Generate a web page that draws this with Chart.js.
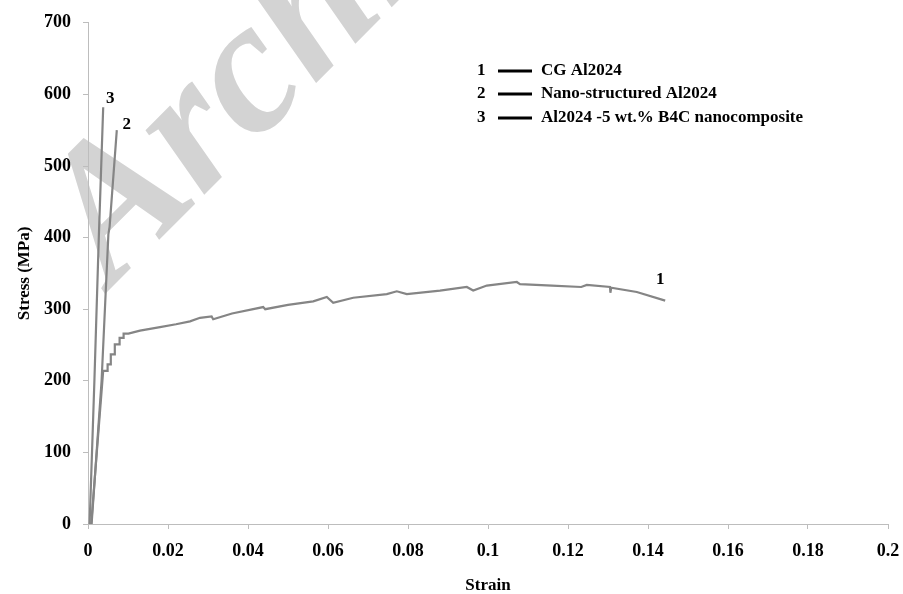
<!DOCTYPE html>
<html>
<head>
    <title>Stress-strain curves</title>
    <style>
        body{ margin:0; background:white; }
    </style>
</head>
<body>
<canvas id="stress" width="903" height="594"></canvas>

<script src="https://cdn.jsdelivr.net/npm/chart.js@4.4.0/dist/chart.umd.min.js"></script>
<script>

    // 1: CG Al2024
    const strain1 = [0.0008, 0.0022, 0.0038, 0.0048, 0.0049, 0.0056, 0.0057, 0.0066, 0.0067, 0.0078, 0.0079, 0.0088, 0.0089, 0.0101,
        0.013, 0.018, 0.022, 0.0255, 0.028, 0.0309, 0.0313, 0.036, 0.0438, 0.0443, 0.05, 0.0563, 0.0597, 0.0613, 0.0663, 0.0747, 0.0772, 0.0797,
        0.088, 0.0947, 0.0963, 0.0997, 0.1072, 0.108, 0.116, 0.1233, 0.1247, 0.1305, 0.1306, 0.1308, 0.1372, 0.1443];
    const stress1 = [0, 100, 214, 214, 223, 223, 237, 237, 251, 251, 260, 260, 266, 266,
        270, 275, 279, 283, 288, 290, 286, 294, 303, 300, 306, 311, 317, 309, 316, 321, 325, 321,
        326, 331, 326, 333, 338, 335, 333, 331, 334, 331, 323, 330, 324, 312];

    // 2: Nano-structured Al2024
    const strain2 = [0.0009, 0.0034, 0.0051, 0.0054, 0.0072];
    const stress2 = [0, 200, 405, 415, 550];

    // 3: Al2024 -5 wt.% B4C nanocomposite
    const strain3 = [0.0004, 0.0016, 0.0027, 0.0038];
    const stress3 = [0, 200, 400, 582];

    const seriesNames = ["CG Al2024", "Nano-structured Al2024", "Al2024 -5 wt.% B4C nanocomposite"];
    const seriesNumbers = ["1", "2", "3"];

    const xTicks = [0, 0.02, 0.04, 0.06, 0.08, 0.1, 0.12, 0.14, 0.16, 0.18, 0.2];
    const yTicks = [0, 100, 200, 300, 400, 500, 600, 700];

    function toPoints(xs, ys) {
        return xs.map((x, i) => ({x: x, y: ys[i]}));
    }

    const serif = '"Liberation Serif", "Times New Roman", serif';
    const lineGrey = "#858585";
    const axisGrey = "#bdbdbd";

    // label offsets (px) from the last point of each curve
    const labelOffsets = [[-5, -21], [10, -6], [7, -9]];

    const extras = {
        id: "extras",
        beforeDraw(chart) {
            const ctx = chart.ctx;
            ctx.save();
            ctx.translate(112, 287);
            ctx.rotate(-45 * Math.PI / 180);
            ctx.fillStyle = "#d3d3d3";
            ctx.font = "italic bold 190px " + serif;
            ctx.textBaseline = "alphabetic";
            ctx.fillText("Archive of SID", 0, 0);
            ctx.restore();
        },
        afterDatasetsDraw(chart) {
            const ctx = chart.ctx;
            const xs = chart.scales.x, ys = chart.scales.y;
            ctx.save();
            ctx.fillStyle = "black";
            ctx.font = "bold 17px " + serif;
            ctx.textAlign = "center";
            ctx.textBaseline = "middle";
            chart.data.datasets.forEach((ds, i) => {
                const last = ds.data[ds.data.length - 1];
                ctx.fillText(seriesNumbers[i],
                    xs.getPixelForValue(last.x) + labelOffsets[i][0],
                    ys.getPixelForValue(last.y) + labelOffsets[i][1]);
            });

            // legend
            const rowsY = [71, 94, 118];
            ctx.textAlign = "left";
            ctx.font = "bold 17px " + serif;
            seriesNames.forEach((name, i) => {
                ctx.fillText(seriesNumbers[i], 477, rowsY[i]);
                ctx.beginPath();
                ctx.moveTo(498, rowsY[i]);
                ctx.lineTo(532, rowsY[i]);
                ctx.lineWidth = 3;
                ctx.strokeStyle = "black";
                ctx.stroke();
                ctx.fillText(name, 541, rowsY[i]);
            });
            ctx.restore();
        }
    };

    const lineStyle = {
        showLine: true,
        borderColor: lineGrey,
        borderWidth: 2.2,
        pointRadius: 0,
        tension: 0,
        fill: false
    };

    new Chart("stress", {
        type: "scatter",
        data: {
            datasets: [
                Object.assign({label: seriesNames[0], data: toPoints(strain1, stress1)}, lineStyle),
                Object.assign({label: seriesNames[1], data: toPoints(strain2, stress2)}, lineStyle),
                Object.assign({label: seriesNames[2], data: toPoints(strain3, stress3)}, lineStyle)
            ]
        },
        options: {
            responsive: false,
            animation: false,
            layout: {padding: {top: 20, right: 15, left: 0, bottom: 0}},
            plugins: {legend: {display: false}, tooltip: {enabled: false}},
            scales: {
                x: {
                    type: "linear",
                    min: 0,
                    max: 0.2,
                    afterFit(scale) { scale.height = 70; scale.paddingRight = 0; },
                    afterBuildTicks(scale) { scale.ticks = xTicks.map(v => ({value: v})); },
                    grid: {drawOnChartArea: false, drawTicks: true, tickLength: 5, color: axisGrey},
                    border: {color: axisGrey, width: 1},
                    ticks: {
                        padding: 12,
                        color: "black",
                        maxRotation: 0,
                        font: {family: serif, size: 18, weight: "bold"},
                        callback: v => String(+v.toFixed(2))
                    },
                    title: {
                        display: true,
                        text: "Strain",
                        color: "black",
                        padding: {top: 0, bottom: 0},
                        font: {family: serif, size: 17, weight: "bold", lineHeight: 1}
                    }
                },
                y: {
                    min: 0,
                    max: 700,
                    afterFit(scale) { scale.width = 88; },
                    afterBuildTicks(scale) { scale.ticks = yTicks.map(v => ({value: v})); },
                    grid: {drawOnChartArea: false, drawTicks: true, tickLength: 5, color: axisGrey},
                    border: {color: axisGrey, width: 1},
                    ticks: {
                        padding: 12,
                        color: "black",
                        font: {family: serif, size: 18, weight: "bold"}
                    },
                    title: {
                        display: true,
                        text: "Stress (MPa)",
                        color: "black",
                        padding: {top: 16, bottom: 0},
                        font: {family: serif, size: 17, weight: "bold", lineHeight: 1}
                    }
                }
            }
        },
        plugins: [extras]
    });

</script>
</body>
</html>
